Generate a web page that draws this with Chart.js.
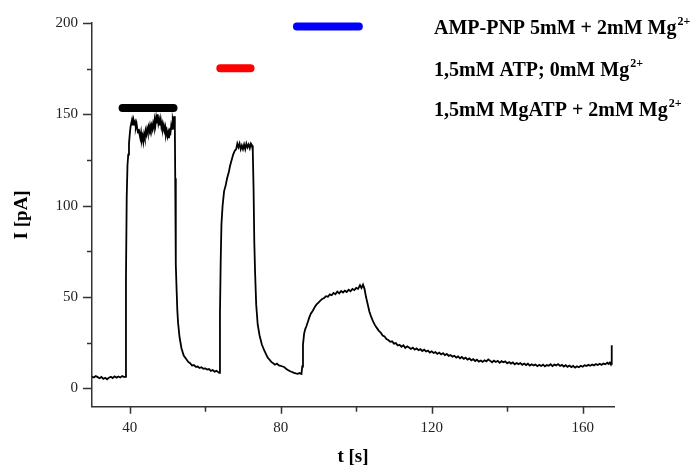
<!DOCTYPE html>
<html>
<head>
<meta charset="utf-8">
<script src="https://cdn.jsdelivr.net/npm/chart.js@4"></script>
<style>
  body { margin: 0; background: #fff; }
  #wrap { width: 696px; height: 468px; }
</style>
</head>
<body>
<div id="wrap"><canvas id="myChart" width="696" height="468"></canvas></div>
<script>
// current trace
const timeS = [
  30.0, 30.5, 31.0, 31.5, 32.0, 32.5, 33.0, 33.5, 34.0, 34.5, 35.0, 35.5, 36.0, 36.5, 37.0, 37.5, 38.0, 38.5, 38.8,
  39.0, 39.2, 39.4, 39.6, 39.8, 40.0, 40.2, 40.4, 40.6, 40.8, 41.0, 41.2, 41.4, 41.6, 41.8, 42.0, 42.2, 42.4, 42.6, 42.8,
  43.0, 43.2, 43.4, 43.6, 43.8, 44.0, 44.2, 44.4, 44.6, 44.8, 45.0, 45.2, 45.4, 45.6, 45.8, 46.0, 46.2, 46.4, 46.6, 46.8,
  47.0, 47.2, 47.4, 47.6, 47.8, 48.0, 48.2, 48.4, 48.6, 48.8, 49.0, 49.2, 49.4, 49.6, 49.8, 50.0, 50.2, 50.4, 50.6, 50.8,
  51.0, 51.2, 51.4, 51.6, 51.8,
  51.95, 52.05, 52.15, 52.25, 52.4, 52.6, 52.8, 53.2, 53.7, 54.3, 55.0, 55.5, 56.0, 56.5, 57.0, 57.5, 58.0, 58.5, 59.0,
  59.5, 60.0, 60.5, 61.0, 61.5, 62.0, 62.5, 63.0, 63.5, 63.7,
  63.9, 64.1, 64.3, 64.6, 65.0, 65.4, 65.8, 66.2, 66.6, 67.0, 67.4, 67.8, 68.2, 68.5, 68.8, 69.1, 69.4, 69.7, 70.0,
  70.3, 70.6, 70.9, 71.2, 71.5, 71.8, 72.1, 72.4, 72.6,
  72.8, 73.0, 73.2, 73.5, 73.9, 74.4, 75.0, 75.7, 76.5, 77.5, 78.0, 78.5, 79.0, 79.5, 80.0, 80.5, 81.0, 81.5, 82.0,
  82.5, 83.0, 83.5, 84.0, 84.5, 85.0, 85.5,
  85.7, 85.9, 86.2, 86.5, 86.8, 87.2, 87.6, 88.0, 88.5, 89.0, 89.5, 90.0, 90.5, 91.0, 91.5, 92.0, 92.5, 93.0, 93.5,
  94.0, 94.5, 95.0, 95.5, 96.0, 96.5, 97.0, 97.5, 98.0, 98.5, 99.0, 99.5, 100.0, 100.5, 101.0, 101.4, 101.8, 102.2,
  102.6, 103.0, 103.5, 104.0, 104.5, 105.0, 105.5, 106.0, 106.5, 107.0, 107.5, 108.0, 108.5, 109.0, 109.5, 110.0,
  110.5, 111.0, 111.5,
  112.0, 112.5, 113.0, 113.5, 114.0, 114.5, 115.0, 115.5, 116.0, 116.5, 117.0, 117.5, 118.0, 118.5, 119.0, 119.5,
  120.0, 120.5, 121.0, 121.5, 122.0, 122.5, 123.0, 123.5, 124.0, 124.5, 125.0, 125.5, 126.0, 126.5, 127.0, 127.5,
  128.0, 128.5, 129.0, 129.5, 130.0, 130.5, 131.0, 131.5, 132.0, 132.5, 133.0, 133.5, 134.0, 134.5, 135.0, 135.5,
  136.0, 136.5, 137.0, 137.5, 138.0, 138.5, 139.0, 139.5, 140.0, 140.5, 141.0, 141.5, 142.0, 142.5, 143.0, 143.5,
  144.0, 144.5, 145.0, 145.5, 146.0, 146.5, 147.0, 147.5, 148.0, 148.5, 149.0, 149.5, 150.0, 150.5, 151.0, 151.5,
  152.0, 152.5, 153.0, 153.5, 154.0, 154.5, 155.0, 155.5, 156.0, 156.5, 157.0, 157.5, 158.0, 158.5, 159.0, 159.5,
  160.0, 160.5, 161.0, 161.5, 162.0, 162.5, 163.0, 163.5, 164.0, 164.5, 165.0, 165.5, 166.0, 166.5, 166.8, 167.2,
  167.5, 167.6, 167.7
];
const currentPA = [
  6.5, 6.0, 6.8, 6.2, 5.6, 6.3, 5.2, 5.8, 5.0, 5.9, 6.4, 5.7, 6.6, 5.9, 6.5, 6.0, 6.8, 6.2, 6.4,
  60, 105, 122, 128, 134, 139, 143, 145, 147, 144, 147, 145, 146, 143, 145, 142, 140, 142, 139, 137,
  140, 136, 138, 135, 139, 137, 141, 139, 142, 140, 143, 141, 144, 142, 144, 142, 145, 143, 147, 144,
  148, 145, 150, 145, 147, 144, 147, 143, 145, 142, 144, 141, 143, 139, 141, 138, 140, 137, 141, 140,
  144, 142, 147, 145, 149,
  143, 115, 88, 68, 55, 43, 36, 28, 22, 18, 16, 14.5, 13.8, 12.5, 12.8, 11.8, 12.0, 11.2, 11.6,
  10.8, 11.0, 10.3, 10.6, 9.6, 10.1, 9.2, 9.6, 8.8, 8.5,
  40, 70, 90, 100, 108, 111, 115, 118, 122, 125, 128, 130, 131, 134, 132, 134, 131, 133, 131,
  133.5, 131, 134, 132, 133.5, 131.5, 134, 133, 130,
  110, 80, 64, 46, 35, 29, 24, 20.5, 17, 14.5, 13.8, 13.0, 13.6, 12.6, 12.4, 12.0, 11.6, 10.6, 10.0,
  9.4, 9.0, 8.5, 8.2, 8.0, 8.4, 7.9,
  12, 24, 30, 32.5, 34, 36.5, 39, 41, 42.5, 44.5, 46, 47, 48, 49, 49.5, 50.5, 50.2, 51.5, 51,
  52.3, 51.6, 53, 52, 53.3, 52.5, 53.5, 52.8, 54, 53.2, 54.5, 53.8, 55, 54.5, 56.5, 55, 56.8, 54.5,
  50, 46.5, 42, 39, 36.5, 34.5, 33, 31.5, 30.5, 29, 28.5, 27, 26.5, 25.5, 25.8, 24.5,
  24.8, 23.5, 23.9,
  22.8, 23.6, 22.2, 23.0, 22.4, 21.6, 22.3, 21.2, 21.9, 20.9, 21.5, 20.5, 21.2, 20.2, 20.7, 19.6,
  20.3, 19.4, 19.9, 18.9, 19.6, 18.6, 19.3, 18.2, 18.9, 17.8, 18.3, 17.4, 17.9, 16.9, 17.5, 16.5,
  17.2, 16.2, 16.8, 15.8, 16.4, 15.4, 16.0, 15.0, 15.7, 14.7, 15.3, 14.5, 15.4, 14.8, 15.9, 15.1,
  14.3, 15.2, 14.5, 15.1, 14.0, 14.9, 14.3, 14.8, 13.7, 14.4, 13.6, 14.2, 13.2, 13.9, 13.3, 13.9,
  12.9, 13.6, 12.8, 13.5, 12.5, 13.2, 12.6, 13.1, 12.2, 12.9, 12.3, 13.0, 12.1, 12.8, 12.4, 13.2,
  12.2, 13.1, 12.6, 13.3, 12.3, 12.9, 12.0, 12.7, 11.8, 12.5, 11.7, 12.3, 11.4, 12.1, 11.6, 12.4,
  11.9, 12.7, 12.3, 12.9, 12.4, 13.1, 12.6, 13.3, 12.8, 13.5, 12.9, 13.6, 13.2, 14.1, 13.4, 14.2,
  13.0, 13.5, 23.7
];

// application bars (black, red, blue) and their conditions
const conditions = ['1,5mM MgATP + 2mM Mg', '1,5mM ATP; 0mM Mg', 'AMP-PNP 5mM + 2mM Mg'];
const barStart = [38.1, 64.0, 84.3];
const barEnd = [51.6, 72.0, 100.7];
const barLevel = [153.5, 175.3, 198.1];
const barColors = ['#000000', '#ff0000', '#0000ff'];

// axis ticks
const xMajorTicks = [40, 80, 120, 160];
const xMinorTicks = [60, 100, 140];
const yMajorTicks = [0, 50, 100, 150, 200];
const yMinorTicks = [25, 75, 125, 175];

const serif = '"Liberation Serif", "Times New Roman", serif';
const axisColor = '#333';

const tracePoints = timeS.map((t, i) => ({ x: t, y: currentPA[i] }));

const datasets = [{
  data: tracePoints,
  borderColor: '#000',
  borderWidth: 1.8,
  pointRadius: 0,
  tension: 0
}];
conditions.forEach((c, i) => {
  datasets.push({
    data: [{ x: barStart[i], y: barLevel[i] }, { x: barEnd[i], y: barLevel[i] }],
    borderColor: barColors[i],
    borderWidth: 8,
    borderCapStyle: 'round',
    pointRadius: 0,
    clip: false
  });
});

// tick marks (major/minor) and condition labels
const extras = {
  id: 'extras',
  afterDraw(chart) {
    const { ctx, scales: { x, y } } = chart;
    ctx.save();
    ctx.strokeStyle = axisColor;
    ctx.lineWidth = 1.5;
    ctx.beginPath();
    xMajorTicks.forEach(v => {
      const px = Math.round(x.getPixelForValue(v)) + 0.5;
      ctx.moveTo(px, y.bottom); ctx.lineTo(px, y.bottom + 7);
    });
    xMinorTicks.forEach(v => {
      const px = Math.round(x.getPixelForValue(v)) + 0.5;
      ctx.moveTo(px, y.bottom); ctx.lineTo(px, y.bottom + 5);
    });
    yMajorTicks.forEach(v => {
      const py = Math.round(y.getPixelForValue(v)) + 0.5;
      ctx.moveTo(x.left, py); ctx.lineTo(x.left - 9, py);
    });
    yMinorTicks.forEach(v => {
      const py = Math.round(y.getPixelForValue(v)) + 0.5;
      ctx.moveTo(x.left, py); ctx.lineTo(x.left - 5, py);
    });
    ctx.stroke();

    ctx.fillStyle = '#000';
    ctx.textBaseline = 'alphabetic';
    ctx.textAlign = 'left';
    conditions.forEach((c, i) => {
      const py = y.getPixelForValue(barLevel[i]) + 8;
      ctx.font = 'bold 20px ' + serif;
      ctx.fillText(c, 434, py);
      const w = ctx.measureText(c).width;
      ctx.font = 'bold 12px ' + serif;
      ctx.fillText('2+', 434 + w + 1, py - 9);
    });
    ctx.restore();
  }
};

new Chart(document.getElementById('myChart').getContext('2d'), {
  type: 'line',
  data: { datasets },
  options: {
    responsive: false,
    animation: false,
    devicePixelRatio: 1,
    layout: { padding: { top: 20.7, right: 82, left: 0, bottom: 0 } },
    plugins: { legend: { display: false }, tooltip: { enabled: false } },
    scales: {
      x: {
        type: 'linear',
        min: 30,
        max: 168.3,
        afterBuildTicks: scale => { scale.ticks = xMajorTicks.map(v => ({ value: v })); },
        afterFit: scale => { scale.height = 61.3; },
        grid: { drawOnChartArea: false, drawTicks: false },
        border: { display: true, color: axisColor, width: 1.5 },
        ticks: { padding: 12, color: '#222', font: { family: serif, size: 15 }, maxRotation: 0 },
        title: { display: true, text: 't [s]', color: '#000', padding: { top: 0, bottom: 0 },
                 font: { family: serif, size: 19, weight: 'bold' } }
      },
      y: {
        type: 'linear',
        min: -10,
        max: 200,
        afterBuildTicks: scale => { scale.ticks = yMajorTicks.map(v => ({ value: v })); },
        afterFit: scale => { scale.width = 92; },
        grid: { drawOnChartArea: false, drawTicks: false },
        border: { display: true, color: axisColor, width: 1.5 },
        ticks: { padding: 14, color: '#222', font: { family: serif, size: 15 } },
        title: { display: true, text: 'I [pA]', color: '#000', padding: { top: 10.6, bottom: 0 },
                 font: { family: serif, size: 19, weight: 'bold' } }
      }
    }
  },
  plugins: [extras]
});
</script>
</body>
</html>
